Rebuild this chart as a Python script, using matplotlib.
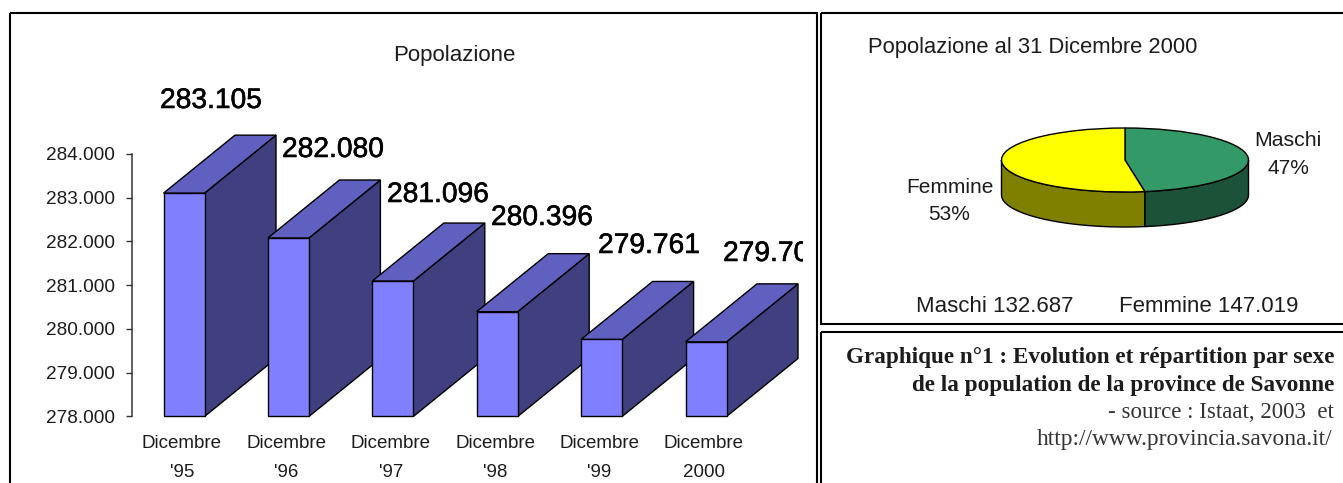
import matplotlib
matplotlib.use("Agg")
import matplotlib.pyplot as plt
import matplotlib.patheffects as pe
from matplotlib.patches import Rectangle
from matplotlib.ticker import FuncFormatter
from matplotlib.transforms import Bbox
import numpy as np

W, H = 1343, 483

plt.rcParams['font.family'] = ['Liberation Sans', 'DejaVu Sans']

# data
periods = ["Dicembre\n'95", "Dicembre\n'96", "Dicembre\n'97", "Dicembre\n'98", "Dicembre\n'99", "Dicembre\n2000"]
population = [283105, 282080, 281096, 280396, 279761, 279706]
pop_labels = ["283.105", "282.080", "281.096", "280.396", "279.761", "279.706"]
y_ticks = [278000, 279000, 280000, 281000, 282000, 283000, 284000]
sex_names = ["Maschi", "Femmine"]
sex_counts = [132687, 147019]
sex_pct = ["47%", "53%"]

# label placement in pixels, left edge / middle of the text
label_px = [(160, 101), (282, 150), (387, 195), (491, 218), (598, 246), (723, 254)]

TEXT = '#1c1c1c'
FRONT, TOP, SIDE = '#8080ff', '#6060c0', '#404080'


def fx(x):
    return x / W


def fy(y):
    return 1 - y / H


def add_axes_px(x0, y0, x1, y1):
    return fig.add_axes([fx(x0), fy(y1), (x1 - x0) / W, (y1 - y0) / H])


def ptext(x, y, s, **kw):
    kw.setdefault('color', TEXT)
    kw.setdefault('va', 'center')
    return fig.text(fx(x), fy(y), s, **kw)


fig = plt.figure(figsize=(W / 100, H / 100), dpi=100, facecolor='white')

# panel frames
bg = fig.add_axes([0, 0, 1, 1])
bg.set_xlim(0, W)
bg.set_ylim(H, 0)
bg.axis('off')
for x0, y0, x1, y1 in [(10, 13, 817, 490), (821, 13, 1350, 324), (821, 332, 1350, 490)]:
    bg.add_patch(Rectangle((x0, y0), x1 - x0, y1 - y0, fill=False, ec='black', lw=1.5))

# bar chart, 3d look drawn by hand on a normal axes
STEP = 104.4
ax = add_axes_px(132, 154, 803, 416.5)
ax.set_xlim(-31.5 / STEP, 639.5 / STEP)
ax.set_ylim(278000, 284000)
ax.patch.set_alpha(0)

bar_w = 41 / STEP
dx = 71.5 / STEP
dy = 58 * 6000 / 262.5

for i, val in enumerate(population):
    l, r = i, i + bar_w
    b = 278000
    ax.fill([r, r + dx, r + dx, r], [b, b + dy, val + dy, val], fc=SIDE, ec='black', lw=1, clip_on=False, zorder=2 + i)
    ax.fill([l, l + dx, r + dx, r], [val, val + dy, val + dy, val], fc=TOP, ec='black', lw=1, clip_on=False, zorder=2 + i)
    ax.fill([l, r, r, l], [b, b, val, val], fc=FRONT, ec='black', lw=1, clip_on=False, zorder=2 + i)

for sp in ['top', 'right', 'bottom']:
    ax.spines[sp].set_visible(False)
ax.spines['left'].set_color('#333333')
ax.spines['left'].set_linewidth(1.1)
ax.set_yticks(y_ticks)
ax.yaxis.set_major_formatter(FuncFormatter(lambda v, p: f'{int(v):,}'.replace(',', '.')))
ax.tick_params(axis='y', length=4.5, width=1, color='#333333', labelsize=13.7, labelcolor=TEXT, pad=8)
ax.set_xticks([i + bar_w / 2 - 0.02 for i in range(len(periods))])
ax.set_xticklabels(periods, fontsize=13.5, color=TEXT, linespacing=1.95)
ax.tick_params(axis='x', length=0, pad=13)

ptext(454, 56, "Popolazione", fontsize=16, ha='center')

clip = Bbox([[0, 0], [803, H]])
for s, (x, y) in zip(pop_labels, label_px):
    t = ptext(x, y, s, fontsize=20.3, color='black', ha='left')
    t.set_path_effects([pe.withStroke(linewidth=0.4, foreground='black')])
    t.set_clip_box(clip)
    t.set_clip_on(True)

# pie chart, squashed by the axes box
pie_ax = add_axes_px(1001.5, 128, 1248.5, 192)
SKIRT = 35 / 32
share_m = sex_counts[0] / sum(sex_counts)
a_split = np.pi / 2 - 2 * np.pi * share_m
a_m = np.linspace(a_split, 0 - 0.0, 40)
a_m = a_m[np.sin(a_m) <= 0]
a_m = np.append(a_m, 0)
a_f = np.linspace(np.pi, 2 * np.pi + a_split, 60)
for ang, col in [(a_m, '#1c5338'), (a_f, '#808000')]:
    xs = np.cos(ang)
    ys = np.sin(ang)
    pie_ax.fill(np.r_[xs, xs[::-1]], np.r_[ys, ys[::-1] - SKIRT], fc=col, ec='black', lw=1, clip_on=False)
wedges, _ = pie_ax.pie(sex_counts, colors=['#339966', '#ffff00'], startangle=90, counterclock=False, radius=1,
                       wedgeprops=dict(ec='black', lw=1, clip_on=False))
pie_ax.set_aspect('auto')
pie_ax.set_xlim(-1, 1)
pie_ax.set_ylim(-1, 1)
pie_ax.axis('off')

ptext(1033, 47, "Popolazione al 31 Dicembre 2000", fontsize=15.8, ha='center')
ptext(1288, 141, sex_names[0], fontsize=15.3, ha='center')
ptext(1288, 168, sex_pct[0], fontsize=15, ha='center')
ptext(950, 188, sex_names[1], fontsize=15, ha='center')
ptext(949, 215, sex_pct[1], fontsize=15, ha='center')
ptext(995, 306, f"{sex_names[0]} 132.687", fontsize=16, ha='center')
ptext(1209, 306, f"{sex_names[1]} 147.019", fontsize=16, ha='center')

# caption
serif = ['Liberation Serif', 'DejaVu Serif']
ptext(1334, 358, "Graphique n°1 : Evolution et répartition par sexe", family=serif, fontsize=16.7, weight='bold', ha='right')
ptext(1334, 386, "de la population de la province de Savonne", family=serif, fontsize=16.7, weight='bold', ha='right')
ptext(1334, 413, "- source : Istaat, 2003  et", family=serif, fontsize=16.5, ha='right', color='#333333')
ptext(1332, 440, "http://www.provincia.savona.it/", family=serif, fontsize=16.8, ha='right', color='#333333')

fig.savefig('out.png', dpi=100)
plt.close(fig)
